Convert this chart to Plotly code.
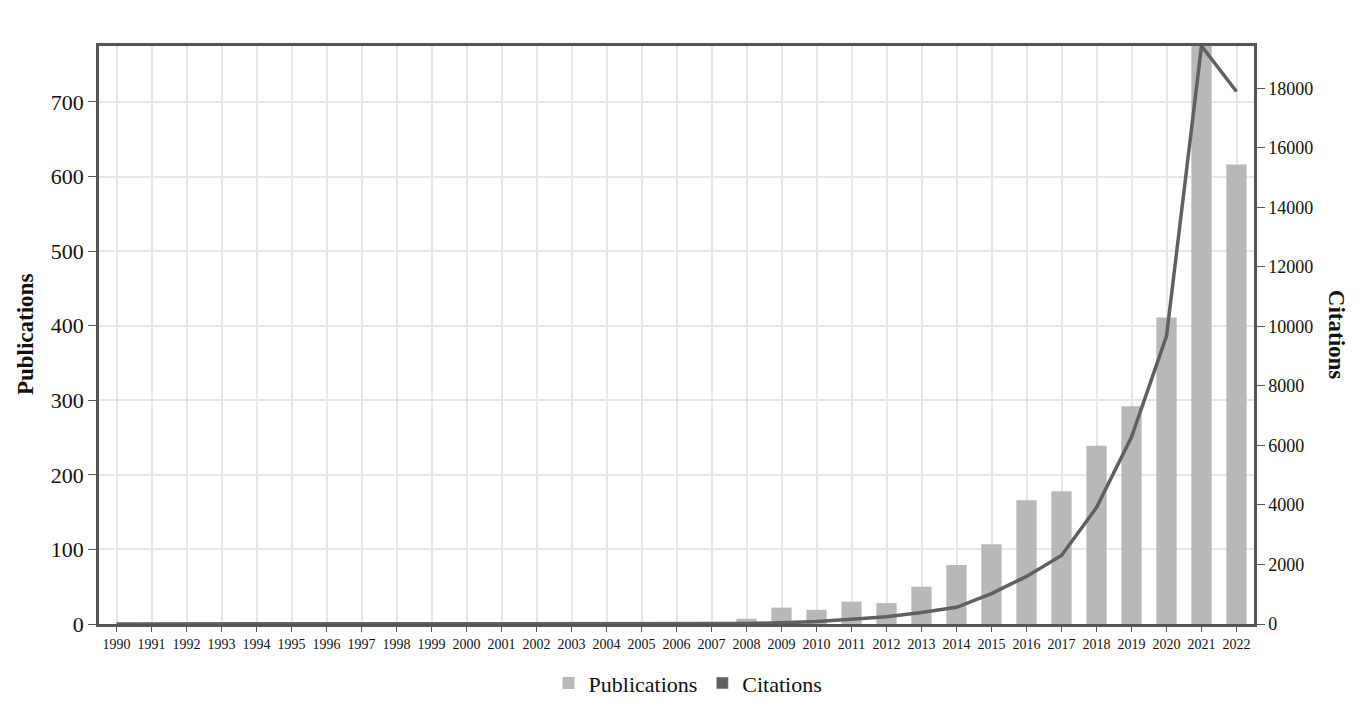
import plotly.graph_objects as go

years = [str(y) for y in range(1990, 2023)]
publications = [0] * 18 + [7, 22, 19, 30, 28, 50, 79, 107, 166, 178, 239, 292,
                           411, 775, 616]
citations = [0] * 18 + [20, 40, 80, 160, 240, 390, 560, 1020, 1600, 2300, 3910,
                        6280, 9670, 19420, 17890]

bar_color = "#b8b8b8"
line_color = "#606060"
serif = "Liberation Serif"

fig = go.Figure()
fig.add_trace(go.Bar(x=years, y=publications, name="Publications",
                     marker=dict(color=bar_color, line=dict(width=0))))
fig.add_trace(go.Scatter(x=years, y=citations, name="Citations", yaxis="y2",
                         mode="lines", showlegend=False,
                         line=dict(color=line_color, width=3.5)))
# square legend swatch for the citations line
fig.add_trace(go.Bar(x=[None], y=[None], name="Citations", yaxis="y2",
                     marker=dict(color=line_color)))

fig.update_layout(
    width=1368, height=724,
    margin=dict(l=91, r=122, t=38, b=108),
    paper_bgcolor="white", plot_bgcolor="white",
    barmode="overlay", bargap=0.42,
    font=dict(family=serif, color="#111"),
    showlegend=True,
    legend=dict(orientation="h", x=0.51, xanchor="center", y=-0.066,
                yanchor="top", font=dict(size=22, family=serif, color="#111"),
                itemwidth=30, traceorder="normal"),
    xaxis=dict(type="category", showgrid=True, gridcolor="#e6e6e6",
               gridwidth=1.5, showline=True, linecolor="#555", linewidth=2.5,
               mirror=True, ticks="outside", ticklen=5, tickcolor="#555",
               tickfont=dict(size=14, family=serif), tickangle=0,
               automargin=False),
    yaxis=dict(range=[0, 775], tickvals=[0, 100, 200, 300, 400, 500, 600, 700],
               showgrid=True, gridcolor="#e6e6e6", gridwidth=1.5,
               showline=True, linecolor="#555", linewidth=2.5,
               ticks="outside", ticklen=8, tickcolor="#555",
               tickfont=dict(size=22, family=serif), zeroline=False,
               automargin=False),
    yaxis2=dict(range=[0, 19420], overlaying="y", side="right",
                tickvals=list(range(0, 18001, 2000)), tickformat="d",
                showgrid=False, automargin=False,
                showline=True, linecolor="#555", linewidth=2.5,
                ticks="outside", ticklen=8, tickcolor="#555",
                tickfont=dict(size=18, family=serif), zeroline=False),
    annotations=[
        dict(text="<b>Publications</b>", x=-0.064, xref="paper", xanchor="center",
             y=0.5, yref="paper", yanchor="middle", textangle=-90,
             showarrow=False, font=dict(size=23, family=serif, color="#111")),
        dict(text="<b>Citations</b>", x=1.072, xref="paper", xanchor="center",
             y=0.5, yref="paper", yanchor="middle", textangle=90,
             showarrow=False, font=dict(size=23, family=serif, color="#111")),
    ],
)

fig.write_html("out.html")
